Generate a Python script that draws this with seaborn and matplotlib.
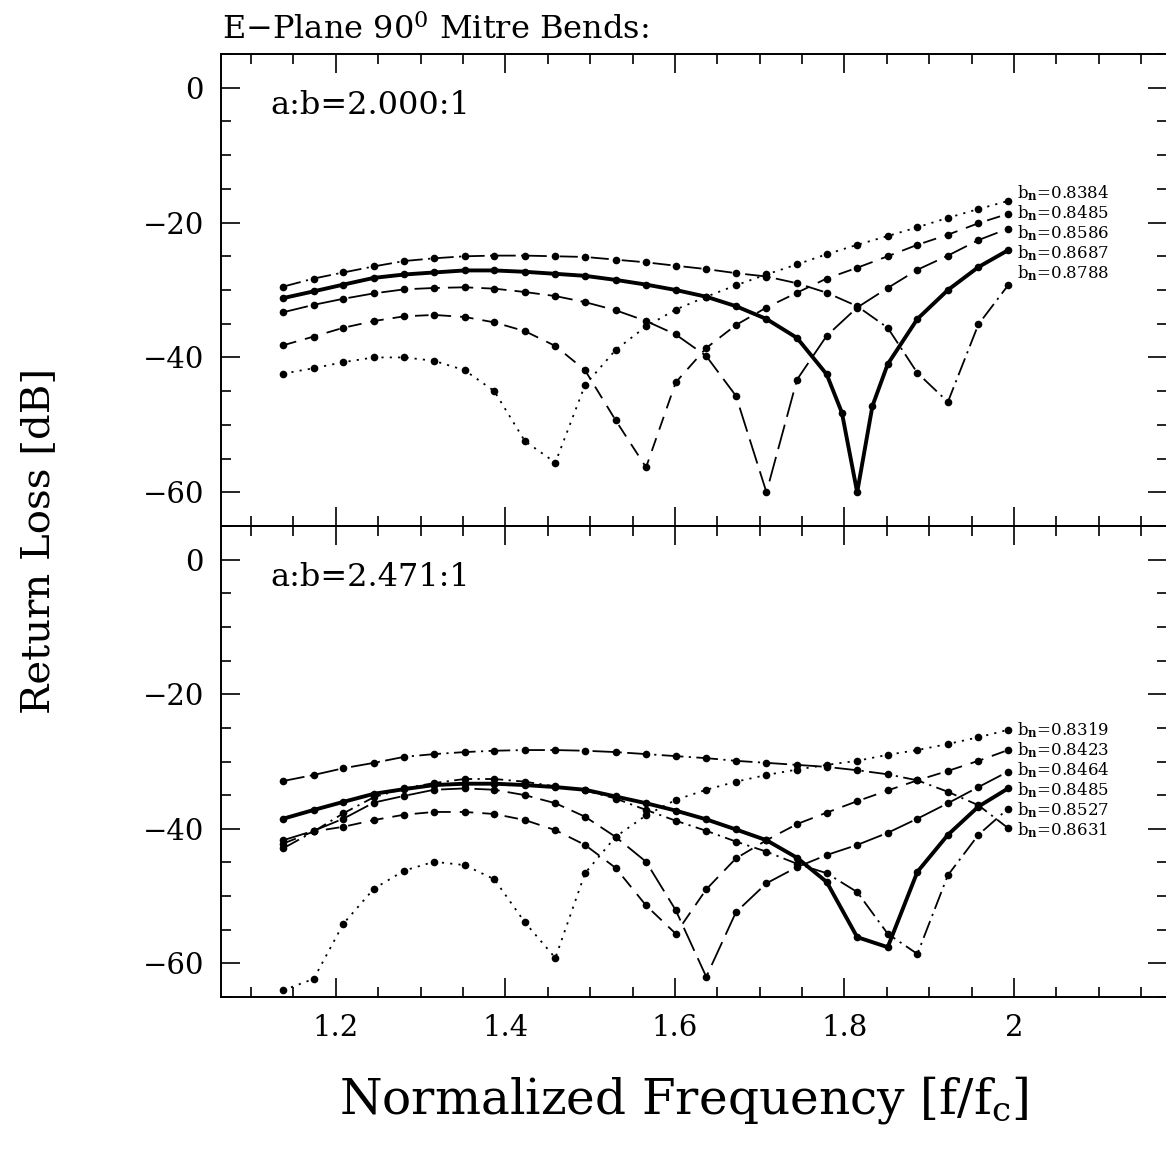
import numpy as np
import pandas as pd
import matplotlib
matplotlib.use("Agg")
import matplotlib.pyplot as plt
from matplotlib.ticker import MultipleLocator
import seaborn as sns

# normalized frequency grid f/fc
freq = [1.138, 1.174, 1.209, 1.245, 1.281, 1.316, 1.352, 1.387, 1.423, 1.459,
        1.494, 1.530, 1.566, 1.601, 1.637, 1.672, 1.708, 1.744, 1.779, 1.815,
        1.851, 1.886, 1.922, 1.958, 1.993]
# the 0.8687 run has two extra points around its null
freq_fine = [1.138, 1.174, 1.209, 1.245, 1.281, 1.316, 1.352, 1.387, 1.423, 1.459,
             1.494, 1.530, 1.566, 1.601, 1.637, 1.672, 1.708, 1.744, 1.779, 1.797,
             1.815, 1.833, 1.851, 1.886, 1.922, 1.958, 1.993]

# a:b = 2.000:1
rl_8384 = [-42.4, -41.6, -40.7, -40.0, -40.0, -40.5, -41.9, -45.0, -52.4, -55.6,
           -44.1, -38.9, -35.4, -32.9, -31.0, -29.3, -27.7, -26.2, -24.7, -23.3,
           -22.0, -20.7, -19.3, -18.0, -16.8]
rl_8485 = [-38.2, -36.9, -35.6, -34.6, -33.9, -33.7, -34.0, -34.8, -36.1, -38.3,
           -41.9, -49.3, -56.3, -43.7, -38.6, -35.2, -32.6, -30.4, -28.3, -26.7,
           -25.0, -23.3, -21.8, -20.1, -18.7]
rl_8586 = [-33.3, -32.2, -31.3, -30.5, -29.9, -29.7, -29.6, -29.8, -30.3, -30.9,
           -31.8, -33.0, -34.6, -36.6, -39.8, -45.7, -60.0, -43.3, -36.8, -32.6,
           -29.7, -27.0, -24.9, -22.6, -20.9]
rl_8687 = [-31.2, -30.2, -29.2, -28.2, -27.7, -27.4, -27.1, -27.1, -27.3, -27.6,
           -27.9, -28.5, -29.2, -30.0, -31.0, -32.4, -34.3, -37.1, -42.5, -48.2,
           -60.0, -47.2, -41.0, -34.3, -30.0, -26.6, -24.1]
rl_8788 = [-29.5, -28.3, -27.4, -26.5, -25.7, -25.3, -25.0, -24.9, -24.9, -25.0,
           -25.1, -25.5, -25.9, -26.4, -26.9, -27.5, -28.0, -29.0, -30.4, -32.4,
           -35.6, -42.3, -46.6, -35.1, -29.3]

# a:b = 2.471:1
rl_8319 = [-64.0, -62.3, -54.1, -48.9, -46.2, -44.9, -45.4, -47.5, -53.9, -59.2,
           -46.6, -41.2, -38.0, -35.7, -34.2, -33.0, -32.0, -31.2, -30.5, -29.9,
           -29.0, -28.3, -27.4, -26.4, -25.3]
rl_8423 = [-42.2, -40.4, -39.7, -38.7, -37.9, -37.5, -37.5, -37.8, -38.7, -40.2,
           -42.4, -45.8, -51.4, -55.6, -49.0, -44.4, -41.7, -39.3, -37.6, -35.9,
           -34.3, -32.8, -31.4, -29.9, -28.3]
rl_8464 = [-41.7, -40.3, -38.5, -36.1, -35.1, -34.2, -34.0, -34.2, -35.0, -36.2,
           -38.2, -41.2, -44.9, -52.1, -62.0, -52.4, -48.1, -45.7, -43.9, -42.4,
           -40.6, -38.5, -36.2, -33.8, -31.5]
rl_8485b = [-38.5, -37.2, -36.0, -34.8, -34.1, -33.5, -33.3, -33.3, -33.5, -33.8,
            -34.2, -35.2, -36.2, -37.3, -38.6, -40.1, -41.7, -44.3, -47.9, -56.1,
            -57.6, -46.4, -40.9, -36.7, -34.0]
rl_8527 = [-42.9, -40.4, -37.7, -35.3, -34.0, -33.2, -32.6, -32.6, -33.0, -33.7,
           -34.3, -35.5, -37.2, -38.8, -40.3, -41.9, -43.4, -45.2, -46.6, -49.4,
           -55.6, -58.6, -46.9, -40.9, -37.0]
rl_8631 = [-32.9, -32.0, -31.0, -30.2, -29.3, -28.9, -28.6, -28.4, -28.3, -28.3,
           -28.4, -28.6, -28.9, -29.2, -29.5, -29.9, -30.2, -30.5, -30.8, -31.3,
           -31.9, -32.8, -34.5, -36.5, -39.9]

top_bn = ["0.8384", "0.8485", "0.8586", "0.8687", "0.8788"]
top_x = [freq, freq, freq, freq_fine, freq]
top_y = [rl_8384, rl_8485, rl_8586, rl_8687, rl_8788]
top_kind = ["dot", "dash", "longdash", "thick", "dashdot"]

bot_bn = ["0.8319", "0.8423", "0.8464", "0.8485", "0.8527", "0.8631"]
bot_x = [freq] * 6
bot_y = [rl_8319, rl_8423, rl_8464, rl_8485b, rl_8527, rl_8631]
bot_kind = ["dot", "dash", "longdash", "thick", "dashdot", "dashdot2"]

line_style = {
    "dot": dict(lw=1.3, linestyle=(0, (1.2, 3.4))),
    "dash": dict(lw=1.3, linestyle=(0, (7.5, 5.0))),
    "longdash": dict(lw=1.3, linestyle=(0, (14, 4.5))),
    "thick": dict(lw=2.8, linestyle="-"),
    "dashdot": dict(lw=1.3, linestyle=(0, (10, 3, 1.2, 3))),
    "dashdot2": dict(lw=1.3, linestyle=(0, (12, 3, 1.2, 3))),
}

sns.set_theme(style="ticks")
plt.rcParams["font.family"] = ["DejaVu Serif"]
plt.rcParams["mathtext.fontset"] = "dejavuserif"
plt.rcParams["text.color"] = "black"
plt.rcParams["axes.labelcolor"] = "black"

fig = plt.figure(figsize=(11.66, 11.51), dpi=100)
ax_top = fig.add_axes([0.1893, 0.5430, 0.8116, 0.4101])
ax_bot = fig.add_axes([0.1893, 0.1338, 0.8116, 0.4092])


def draw_panel(ax, xs, ys, names, kinds, label_top, ratio):
    for x, y, bn, kind in zip(xs, ys, names, kinds):
        df = pd.DataFrame({"freq": x, "rl": y})
        sns.lineplot(data=df, x="freq", y="rl", ax=ax, color="black",
                     marker="o", markersize=5.5, mec="black", mew=0,
                     legend=False, errorbar=None, **line_style[kind])
    for k, bn in enumerate(names):
        ax.text(2.004, label_top - 2.97 * k, "b$_{\\mathbf{n}}$=" + bn,
                fontsize=12, ha="left", va="center", color="black")
    ax.text(0.052, 0.89, "a:b=" + ratio, transform=ax.transAxes,
            fontsize=23, ha="left", va="center", color="black")

    ax.set_xlim(1.0643, 2.1805)
    ax.set_ylim(-65, 5)
    ax.xaxis.set_major_locator(MultipleLocator(0.2))
    ax.xaxis.set_minor_locator(MultipleLocator(0.05))
    ax.yaxis.set_major_locator(MultipleLocator(20))
    ax.yaxis.set_minor_locator(MultipleLocator(5))
    ax.tick_params(which="both", direction="in", top=True, right=True,
                   color="black", width=1.2, labelsize=21, labelcolor="black")
    ax.tick_params(which="major", length=14, pad=12)
    ax.tick_params(which="minor", length=7)
    for s in ax.spines.values():
        s.set_visible(True)
        s.set_color("black")
        s.set_linewidth(1.4)
    ax.set_xlabel("")
    ax.set_ylabel("")
    ax.set_yticks([0, -20, -40, -60])
    ax.set_yticklabels(["0", "\u221220", "\u221240", "\u221260"])


draw_panel(ax_top, top_x, top_y, top_bn, top_kind, -15.6, "2.000:1")
draw_panel(ax_bot, bot_x, bot_y, bot_bn, bot_kind, -25.3, "2.471:1")

ax_top.tick_params(labelbottom=False)
ax_bot.set_xticks([1.2, 1.4, 1.6, 1.8, 2.0])
ax_bot.set_xticklabels(["1.2", "1.4", "1.6", "1.8", "2"])

fig.text(0.19, 0.974, "E\u2212Plane 90$^{0}$ Mitre Bends:", fontsize=23,
         ha="left", va="center")
fig.text(0.033, 0.530, "Return Loss [dB]", fontsize=29, rotation=90,
         ha="center", va="center")
fig.text(0.586, 0.044, "Normalized Frequency [f/f$_{\\mathrm{c}}$]", fontsize=35,
         ha="center", va="center")

fig.savefig("out.png", dpi=100, facecolor="white")
